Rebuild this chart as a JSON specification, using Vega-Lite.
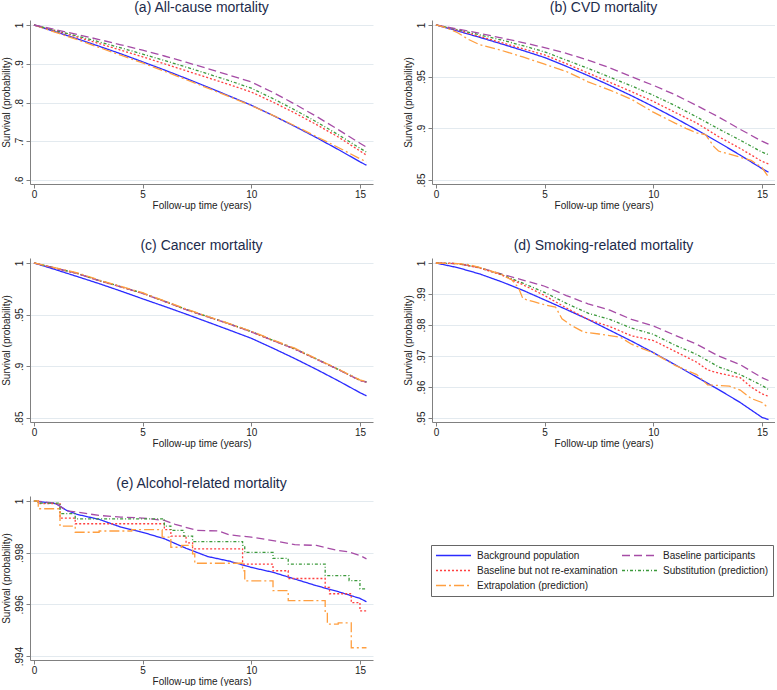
{
"$schema":"https://vega.github.io/schema/vega-lite/v6.json",
"padding":{"left":1,"top":1,"right":0,"bottom":0},
"background":"white",
"datasets":{"d":[
{"p":"a","s":"BG","t":0,"v":1},{"p":"a","s":"BG","t":1,"v":0.9825},{"p":"a","s":"BG","t":2,"v":0.9642},{"p":"a","s":"BG","t":3,"v":0.9452},{"p":"a","s":"BG","t":4,"v":0.9256},{"p":"a","s":"BG","t":5,"v":0.905},{"p":"a","s":"BG","t":6,"v":0.884},{"p":"a","s":"BG","t":7,"v":0.8622},{"p":"a","s":"BG","t":8,"v":0.8397},{"p":"a","s":"BG","t":9,"v":0.8165},{"p":"a","s":"BG","t":10,"v":0.793},{"p":"a","s":"BG","t":11,"v":0.7665},{"p":"a","s":"BG","t":12,"v":0.7385},{"p":"a","s":"BG","t":13,"v":0.7093},{"p":"a","s":"BG","t":14,"v":0.6788},{"p":"a","s":"BG","t":15,"v":0.647},{"p":"a","s":"BG","t":15.3,"v":0.638},
{"p":"a","s":"EX","t":0,"v":1},{"p":"a","s":"EX","t":1,"v":0.981},{"p":"a","s":"EX","t":2,"v":0.962},{"p":"a","s":"EX","t":3,"v":0.942},{"p":"a","s":"EX","t":4,"v":0.922},{"p":"a","s":"EX","t":5,"v":0.902},{"p":"a","s":"EX","t":6,"v":0.881},{"p":"a","s":"EX","t":7,"v":0.859},{"p":"a","s":"EX","t":8,"v":0.837},{"p":"a","s":"EX","t":9,"v":0.815},{"p":"a","s":"EX","t":10,"v":0.792},{"p":"a","s":"EX","t":11,"v":0.767},{"p":"a","s":"EX","t":12,"v":0.74},{"p":"a","s":"EX","t":13,"v":0.712},{"p":"a","s":"EX","t":14,"v":0.684},{"p":"a","s":"EX","t":15,"v":0.655},{"p":"a","s":"EX","t":15.3,"v":0.647},
{"p":"a","s":"BN","t":0,"v":1},{"p":"a","s":"BN","t":1,"v":0.985},{"p":"a","s":"BN","t":2,"v":0.969},{"p":"a","s":"BN","t":3,"v":0.952},{"p":"a","s":"BN","t":4,"v":0.935},{"p":"a","s":"BN","t":5,"v":0.918},{"p":"a","s":"BN","t":6,"v":0.9},{"p":"a","s":"BN","t":7,"v":0.882},{"p":"a","s":"BN","t":8,"v":0.864},{"p":"a","s":"BN","t":9,"v":0.846},{"p":"a","s":"BN","t":10,"v":0.827},{"p":"a","s":"BN","t":11,"v":0.801},{"p":"a","s":"BN","t":12,"v":0.773},{"p":"a","s":"BN","t":13,"v":0.743},{"p":"a","s":"BN","t":14,"v":0.711},{"p":"a","s":"BN","t":15,"v":0.675},{"p":"a","s":"BN","t":15.3,"v":0.664},
{"p":"a","s":"SU","t":0,"v":1},{"p":"a","s":"SU","t":1,"v":0.986},{"p":"a","s":"SU","t":2,"v":0.9715},{"p":"a","s":"SU","t":3,"v":0.9565},{"p":"a","s":"SU","t":4,"v":0.941},{"p":"a","s":"SU","t":5,"v":0.925},{"p":"a","s":"SU","t":6,"v":0.9085},{"p":"a","s":"SU","t":7,"v":0.8915},{"p":"a","s":"SU","t":8,"v":0.874},{"p":"a","s":"SU","t":9,"v":0.856},{"p":"a","s":"SU","t":10,"v":0.837},{"p":"a","s":"SU","t":11,"v":0.81},{"p":"a","s":"SU","t":12,"v":0.781},{"p":"a","s":"SU","t":13,"v":0.75},{"p":"a","s":"SU","t":14,"v":0.717},{"p":"a","s":"SU","t":15,"v":0.682},{"p":"a","s":"SU","t":15.3,"v":0.672},
{"p":"a","s":"BP","t":0,"v":1},{"p":"a","s":"BP","t":1,"v":0.988},{"p":"a","s":"BP","t":2,"v":0.9755},{"p":"a","s":"BP","t":3,"v":0.9625},{"p":"a","s":"BP","t":4,"v":0.949},{"p":"a","s":"BP","t":5,"v":0.935},{"p":"a","s":"BP","t":6,"v":0.92},{"p":"a","s":"BP","t":7,"v":0.904},{"p":"a","s":"BP","t":8,"v":0.8875},{"p":"a","s":"BP","t":9,"v":0.8705},{"p":"a","s":"BP","t":10,"v":0.853},{"p":"a","s":"BP","t":11,"v":0.826},{"p":"a","s":"BP","t":12,"v":0.796},{"p":"a","s":"BP","t":13,"v":0.764},{"p":"a","s":"BP","t":14,"v":0.73},{"p":"a","s":"BP","t":15,"v":0.695},{"p":"a","s":"BP","t":15.3,"v":0.685},

{"p":"b","s":"BG","t":0,"v":1},{"p":"b","s":"BG","t":1,"v":0.9942},{"p":"b","s":"BG","t":2,"v":0.9881},{"p":"b","s":"BG","t":3,"v":0.9818},{"p":"b","s":"BG","t":4,"v":0.9753},{"p":"b","s":"BG","t":5,"v":0.9685},{"p":"b","s":"BG","t":6,"v":0.96},{"p":"b","s":"BG","t":7,"v":0.951},{"p":"b","s":"BG","t":8,"v":0.9415},{"p":"b","s":"BG","t":9,"v":0.9315},{"p":"b","s":"BG","t":10,"v":0.921},{"p":"b","s":"BG","t":11,"v":0.91},{"p":"b","s":"BG","t":12,"v":0.8985},{"p":"b","s":"BG","t":13,"v":0.8865},{"p":"b","s":"BG","t":14,"v":0.874},{"p":"b","s":"BG","t":15,"v":0.861},{"p":"b","s":"BG","t":15.3,"v":0.8575},
{"p":"b","s":"BN","t":0,"v":1},{"p":"b","s":"BN","t":1,"v":0.995},{"p":"b","s":"BN","t":2,"v":0.989},{"p":"b","s":"BN","t":3,"v":0.983},{"p":"b","s":"BN","t":4,"v":0.977},{"p":"b","s":"BN","t":5,"v":0.971},{"p":"b","s":"BN","t":6,"v":0.9625},{"p":"b","s":"BN","t":7,"v":0.9535},{"p":"b","s":"BN","t":8,"v":0.9445},{"p":"b","s":"BN","t":9,"v":0.9355},{"p":"b","s":"BN","t":10,"v":0.926},{"p":"b","s":"BN","t":11,"v":0.9155},{"p":"b","s":"BN","t":12,"v":0.905},{"p":"b","s":"BN","t":13,"v":0.892},{"p":"b","s":"BN","t":14,"v":0.8805},{"p":"b","s":"BN","t":15,"v":0.868},{"p":"b","s":"BN","t":15.3,"v":0.8656},
{"p":"b","s":"SU","t":0,"v":1},{"p":"b","s":"SU","t":1,"v":0.9955},{"p":"b","s":"SU","t":2,"v":0.9905},{"p":"b","s":"SU","t":3,"v":0.9855},{"p":"b","s":"SU","t":4,"v":0.98},{"p":"b","s":"SU","t":5,"v":0.974},{"p":"b","s":"SU","t":6,"v":0.966},{"p":"b","s":"SU","t":7,"v":0.958},{"p":"b","s":"SU","t":8,"v":0.9495},{"p":"b","s":"SU","t":9,"v":0.941},{"p":"b","s":"SU","t":10,"v":0.932},{"p":"b","s":"SU","t":11,"v":0.922},{"p":"b","s":"SU","t":12,"v":0.911},{"p":"b","s":"SU","t":13,"v":0.8995},{"p":"b","s":"SU","t":14,"v":0.8885},{"p":"b","s":"SU","t":15,"v":0.877},{"p":"b","s":"SU","t":15.3,"v":0.8744},
{"p":"b","s":"BP","t":0,"v":1},{"p":"b","s":"BP","t":1,"v":0.996},{"p":"b","s":"BP","t":2,"v":0.992},{"p":"b","s":"BP","t":3,"v":0.9875},{"p":"b","s":"BP","t":4,"v":0.983},{"p":"b","s":"BP","t":5,"v":0.978},{"p":"b","s":"BP","t":6,"v":0.9725},{"p":"b","s":"BP","t":7,"v":0.966},{"p":"b","s":"BP","t":8,"v":0.9585},{"p":"b","s":"BP","t":9,"v":0.95},{"p":"b","s":"BP","t":10,"v":0.9416},{"p":"b","s":"BP","t":11,"v":0.9325},{"p":"b","s":"BP","t":12,"v":0.922},{"p":"b","s":"BP","t":13,"v":0.911},{"p":"b","s":"BP","t":14,"v":0.899},{"p":"b","s":"BP","t":15,"v":0.8875},{"p":"b","s":"BP","t":15.3,"v":0.8847},
{"p":"b","s":"EX","t":0,"v":1},{"p":"b","s":"EX","t":0.5,"v":0.997},{"p":"b","s":"EX","t":1,"v":0.9925},{"p":"b","s":"EX","t":1.5,"v":0.986},{"p":"b","s":"EX","t":2,"v":0.981},{"p":"b","s":"EX","t":3,"v":0.9755},{"p":"b","s":"EX","t":4,"v":0.969},{"p":"b","s":"EX","t":5,"v":0.962},{"p":"b","s":"EX","t":6,"v":0.955},{"p":"b","s":"EX","t":7,"v":0.945},{"p":"b","s":"EX","t":8,"v":0.937},{"p":"b","s":"EX","t":9,"v":0.928},{"p":"b","s":"EX","t":10,"v":0.9156},{"p":"b","s":"EX","t":11,"v":0.905},{"p":"b","s":"EX","t":11.5,"v":0.9},{"p":"b","s":"EX","t":12,"v":0.8955},{"p":"b","s":"EX","t":12.4,"v":0.894},{"p":"b","s":"EX","t":12.8,"v":0.882},{"p":"b","s":"EX","t":13,"v":0.878},{"p":"b","s":"EX","t":14,"v":0.872},{"p":"b","s":"EX","t":14.5,"v":0.869},{"p":"b","s":"EX","t":15,"v":0.862},{"p":"b","s":"EX","t":15.3,"v":0.853},

{"p":"c","s":"BG","t":0,"v":1},{"p":"c","s":"BG","t":1,"v":0.9935},{"p":"c","s":"BG","t":2,"v":0.9868},{"p":"c","s":"BG","t":3,"v":0.98},{"p":"c","s":"BG","t":4,"v":0.9728},{"p":"c","s":"BG","t":5,"v":0.9653},{"p":"c","s":"BG","t":6,"v":0.958},{"p":"c","s":"BG","t":7,"v":0.9505},{"p":"c","s":"BG","t":8,"v":0.9428},{"p":"c","s":"BG","t":9,"v":0.935},{"p":"c","s":"BG","t":10,"v":0.9271},{"p":"c","s":"BG","t":11,"v":0.9175},{"p":"c","s":"BG","t":12,"v":0.9075},{"p":"c","s":"BG","t":13,"v":0.897},{"p":"c","s":"BG","t":14,"v":0.886},{"p":"c","s":"BG","t":15,"v":0.8745},{"p":"c","s":"BG","t":15.3,"v":0.8714},
{"p":"c","s":"BN","t":0,"v":1},{"p":"c","s":"BN","t":1,"v":0.9948},{"p":"c","s":"BN","t":2,"v":0.9897},{"p":"c","s":"BN","t":3,"v":0.9828},{"p":"c","s":"BN","t":4,"v":0.9768},{"p":"c","s":"BN","t":5,"v":0.9705},{"p":"c","s":"BN","t":6,"v":0.9628},{"p":"c","s":"BN","t":7,"v":0.9548},{"p":"c","s":"BN","t":8,"v":0.9478},{"p":"c","s":"BN","t":9,"v":0.9408},{"p":"c","s":"BN","t":10,"v":0.9333},{"p":"c","s":"BN","t":11,"v":0.9248},{"p":"c","s":"BN","t":12,"v":0.9166},{"p":"c","s":"BN","t":13,"v":0.9068},{"p":"c","s":"BN","t":14,"v":0.8968},{"p":"c","s":"BN","t":15,"v":0.8862},{"p":"c","s":"BN","t":15.3,"v":0.8846},
{"p":"c","s":"SU","t":0,"v":1},{"p":"c","s":"SU","t":1,"v":0.9951},{"p":"c","s":"SU","t":2,"v":0.9899},{"p":"c","s":"SU","t":3,"v":0.9831},{"p":"c","s":"SU","t":4,"v":0.9771},{"p":"c","s":"SU","t":5,"v":0.9709},{"p":"c","s":"SU","t":6,"v":0.9631},{"p":"c","s":"SU","t":7,"v":0.9551},{"p":"c","s":"SU","t":8,"v":0.9481},{"p":"c","s":"SU","t":9,"v":0.9411},{"p":"c","s":"SU","t":10,"v":0.9337},{"p":"c","s":"SU","t":11,"v":0.9251},{"p":"c","s":"SU","t":12,"v":0.9171},{"p":"c","s":"SU","t":13,"v":0.9071},{"p":"c","s":"SU","t":14,"v":0.8971},{"p":"c","s":"SU","t":15,"v":0.8866},{"p":"c","s":"SU","t":15.3,"v":0.885},
{"p":"c","s":"BP","t":0,"v":1},{"p":"c","s":"BP","t":1,"v":0.9949},{"p":"c","s":"BP","t":2,"v":0.9898},{"p":"c","s":"BP","t":3,"v":0.9829},{"p":"c","s":"BP","t":4,"v":0.9769},{"p":"c","s":"BP","t":5,"v":0.9706},{"p":"c","s":"BP","t":6,"v":0.9629},{"p":"c","s":"BP","t":7,"v":0.9549},{"p":"c","s":"BP","t":8,"v":0.9479},{"p":"c","s":"BP","t":9,"v":0.9409},{"p":"c","s":"BP","t":10,"v":0.9334},{"p":"c","s":"BP","t":11,"v":0.9249},{"p":"c","s":"BP","t":12,"v":0.9168},{"p":"c","s":"BP","t":13,"v":0.9069},{"p":"c","s":"BP","t":14,"v":0.8969},{"p":"c","s":"BP","t":15,"v":0.8863},{"p":"c","s":"BP","t":15.3,"v":0.8848},
{"p":"c","s":"EX","t":0,"v":1},{"p":"c","s":"EX","t":1,"v":0.9953},{"p":"c","s":"EX","t":2,"v":0.9905},{"p":"c","s":"EX","t":3,"v":0.9835},{"p":"c","s":"EX","t":4,"v":0.9773},{"p":"c","s":"EX","t":5,"v":0.9712},{"p":"c","s":"EX","t":6,"v":0.9633},{"p":"c","s":"EX","t":7,"v":0.9555},{"p":"c","s":"EX","t":8,"v":0.9482},{"p":"c","s":"EX","t":9,"v":0.9412},{"p":"c","s":"EX","t":10,"v":0.934},{"p":"c","s":"EX","t":11,"v":0.9255},{"p":"c","s":"EX","t":12,"v":0.9175},{"p":"c","s":"EX","t":13,"v":0.9073},{"p":"c","s":"EX","t":14,"v":0.8974},{"p":"c","s":"EX","t":15,"v":0.8868},{"p":"c","s":"EX","t":15.3,"v":0.8853},

{"p":"d","s":"BG","t":0,"v":1},{"p":"d","s":"BG","t":1,"v":0.9985},{"p":"d","s":"BG","t":2,"v":0.9965},{"p":"d","s":"BG","t":3,"v":0.994},{"p":"d","s":"BG","t":4,"v":0.9912},{"p":"d","s":"BG","t":5,"v":0.9881},{"p":"d","s":"BG","t":6,"v":0.985},{"p":"d","s":"BG","t":7,"v":0.9818},{"p":"d","s":"BG","t":8,"v":0.9783},{"p":"d","s":"BG","t":9,"v":0.9748},{"p":"d","s":"BG","t":10,"v":0.9711},{"p":"d","s":"BG","t":11,"v":0.9672},{"p":"d","s":"BG","t":12,"v":0.9632},{"p":"d","s":"BG","t":13,"v":0.9592},{"p":"d","s":"BG","t":14,"v":0.955},{"p":"d","s":"BG","t":15,"v":0.9502},{"p":"d","s":"BG","t":15.3,"v":0.9495},
{"p":"d","s":"BP","t":0,"v":1},{"p":"d","s":"BP","t":1,"v":0.9998},{"p":"d","s":"BP","t":2,"v":0.9985},{"p":"d","s":"BP","t":3,"v":0.9965},{"p":"d","s":"BP","t":4,"v":0.9945},{"p":"d","s":"BP","t":5,"v":0.9925},{"p":"d","s":"BP","t":6,"v":0.9895},{"p":"d","s":"BP","t":7,"v":0.9868},{"p":"d","s":"BP","t":8,"v":0.9848},{"p":"d","s":"BP","t":9,"v":0.9818},{"p":"d","s":"BP","t":10,"v":0.9797},{"p":"d","s":"BP","t":11,"v":0.9767},{"p":"d","s":"BP","t":12,"v":0.9738},{"p":"d","s":"BP","t":13,"v":0.97},{"p":"d","s":"BP","t":14,"v":0.9672},{"p":"d","s":"BP","t":15,"v":0.963},{"p":"d","s":"BP","t":15.3,"v":0.9621},
{"p":"d","s":"SU","t":0,"v":1},{"p":"d","s":"SU","t":1,"v":0.9998},{"p":"d","s":"SU","t":2,"v":0.9985},{"p":"d","s":"SU","t":3,"v":0.9963},{"p":"d","s":"SU","t":4,"v":0.9935},{"p":"d","s":"SU","t":5,"v":0.9905},{"p":"d","s":"SU","t":6,"v":0.987},{"p":"d","s":"SU","t":7,"v":0.9838},{"p":"d","s":"SU","t":8,"v":0.9818},{"p":"d","s":"SU","t":9,"v":0.979},{"p":"d","s":"SU","t":10,"v":0.977},{"p":"d","s":"SU","t":11,"v":0.9735},{"p":"d","s":"SU","t":12,"v":0.9705},{"p":"d","s":"SU","t":13,"v":0.9665},{"p":"d","s":"SU","t":14,"v":0.964},{"p":"d","s":"SU","t":15,"v":0.9605},{"p":"d","s":"SU","t":15.3,"v":0.9592},
{"p":"d","s":"BN","t":0,"v":1},{"p":"d","s":"BN","t":1,"v":0.9998},{"p":"d","s":"BN","t":2,"v":0.9984},{"p":"d","s":"BN","t":3,"v":0.9962},{"p":"d","s":"BN","t":4,"v":0.993},{"p":"d","s":"BN","t":5,"v":0.9895},{"p":"d","s":"BN","t":6,"v":0.9855},{"p":"d","s":"BN","t":7,"v":0.9818},{"p":"d","s":"BN","t":8,"v":0.9795},{"p":"d","s":"BN","t":9,"v":0.9765},{"p":"d","s":"BN","t":10,"v":0.975},{"p":"d","s":"BN","t":11,"v":0.9715},{"p":"d","s":"BN","t":12,"v":0.968},{"p":"d","s":"BN","t":12.5,"v":0.9655},{"p":"d","s":"BN","t":13,"v":0.9645},{"p":"d","s":"BN","t":14,"v":0.963},{"p":"d","s":"BN","t":14.5,"v":0.96},{"p":"d","s":"BN","t":15,"v":0.9578},{"p":"d","s":"BN","t":15.3,"v":0.957},
{"p":"d","s":"EX","t":0,"v":1},{"p":"d","s":"EX","t":1,"v":0.9998},{"p":"d","s":"EX","t":1.5,"v":0.9995},{"p":"d","s":"EX","t":2,"v":0.9986},{"p":"d","s":"EX","t":3,"v":0.9964},{"p":"d","s":"EX","t":3.5,"v":0.9945},{"p":"d","s":"EX","t":3.8,"v":0.992},{"p":"d","s":"EX","t":4,"v":0.9885},{"p":"d","s":"EX","t":4.5,"v":0.9875},{"p":"d","s":"EX","t":5,"v":0.9865},{"p":"d","s":"EX","t":5.5,"v":0.9858},{"p":"d","s":"EX","t":5.8,"v":0.982},{"p":"d","s":"EX","t":6.2,"v":0.98},{"p":"d","s":"EX","t":6.8,"v":0.9777},{"p":"d","s":"EX","t":7.5,"v":0.9771},{"p":"d","s":"EX","t":8.5,"v":0.976},{"p":"d","s":"EX","t":9,"v":0.9738},{"p":"d","s":"EX","t":10,"v":0.971},{"p":"d","s":"EX","t":10.5,"v":0.969},{"p":"d","s":"EX","t":11,"v":0.967},{"p":"d","s":"EX","t":12,"v":0.964},{"p":"d","s":"EX","t":12.5,"v":0.9607},{"p":"d","s":"EX","t":13.5,"v":0.9603},{"p":"d","s":"EX","t":14,"v":0.959},{"p":"d","s":"EX","t":14.5,"v":0.9563},{"p":"d","s":"EX","t":15,"v":0.955},{"p":"d","s":"EX","t":15.3,"v":0.9532},

{"p":"e","s":"BG","t":0,"v":1},{"p":"e","s":"BG","t":1,"v":0.9999},{"p":"e","s":"BG","t":1.5,"v":0.99964},{"p":"e","s":"BG","t":2,"v":0.99948},{"p":"e","s":"BG","t":3,"v":0.99929},{"p":"e","s":"BG","t":4,"v":0.99899},{"p":"e","s":"BG","t":5,"v":0.99879},{"p":"e","s":"BG","t":6,"v":0.99854},{"p":"e","s":"BG","t":7,"v":0.99817},{"p":"e","s":"BG","t":8,"v":0.99785},{"p":"e","s":"BG","t":9,"v":0.99767},{"p":"e","s":"BG","t":10,"v":0.99743},{"p":"e","s":"BG","t":11,"v":0.99724},{"p":"e","s":"BG","t":12,"v":0.99698},{"p":"e","s":"BG","t":13,"v":0.99672},{"p":"e","s":"BG","t":14,"v":0.99649},{"p":"e","s":"BG","t":15,"v":0.99623},{"p":"e","s":"BG","t":15.3,"v":0.9961},
{"p":"e","s":"BP","t":0,"v":1},{"p":"e","s":"BP","t":1,"v":0.99992},{"p":"e","s":"BP","t":1.5,"v":0.99962},{"p":"e","s":"BP","t":2,"v":0.99957},{"p":"e","s":"BP","t":3,"v":0.99944},{"p":"e","s":"BP","t":4,"v":0.99938},{"p":"e","s":"BP","t":5,"v":0.99934},{"p":"e","s":"BP","t":6,"v":0.99925},{"p":"e","s":"BP","t":6.5,"v":0.9991},{"p":"e","s":"BP","t":7.5,"v":0.99886},{"p":"e","s":"BP","t":8.5,"v":0.99884},{"p":"e","s":"BP","t":9,"v":0.99869},{"p":"e","s":"BP","t":10,"v":0.9986},{"p":"e","s":"BP","t":11,"v":0.99847},{"p":"e","s":"BP","t":12,"v":0.99831},{"p":"e","s":"BP","t":13,"v":0.99828},{"p":"e","s":"BP","t":14,"v":0.99808},{"p":"e","s":"BP","t":14.5,"v":0.99803},{"p":"e","s":"BP","t":15,"v":0.99789},{"p":"e","s":"BP","t":15.3,"v":0.99776},
{"p":"e","s":"BN","t":0,"v":1},{"p":"e","s":"BN","t":0.2,"v":0.9999},{"p":"e","s":"BN","t":1.2,"v":0.99934},{"p":"e","s":"BN","t":1.9,"v":0.99912},{"p":"e","s":"BN","t":6,"v":0.99889},{"p":"e","s":"BN","t":6.3,"v":0.99864},{"p":"e","s":"BN","t":7,"v":0.99838},{"p":"e","s":"BN","t":7.3,"v":0.99815},{"p":"e","s":"BN","t":9.6,"v":0.99756},{"p":"e","s":"BN","t":11,"v":0.9973},{"p":"e","s":"BN","t":11.7,"v":0.997},{"p":"e","s":"BN","t":13.4,"v":0.99666},{"p":"e","s":"BN","t":13.6,"v":0.99641},{"p":"e","s":"BN","t":14.6,"v":0.99607},{"p":"e","s":"BN","t":15,"v":0.99575},{"p":"e","s":"BN","t":15.3,"v":0.99575},
{"p":"e","s":"SU","t":0,"v":1},{"p":"e","s":"SU","t":0.2,"v":0.99992},{"p":"e","s":"SU","t":1.2,"v":0.99951},{"p":"e","s":"SU","t":1.9,"v":0.99931},{"p":"e","s":"SU","t":6,"v":0.99903},{"p":"e","s":"SU","t":6.3,"v":0.99886},{"p":"e","s":"SU","t":6.9,"v":0.99864},{"p":"e","s":"SU","t":7.3,"v":0.99843},{"p":"e","s":"SU","t":9.6,"v":0.99828},{"p":"e","s":"SU","t":9.7,"v":0.99801},{"p":"e","s":"SU","t":11,"v":0.99778},{"p":"e","s":"SU","t":11.7,"v":0.99756},{"p":"e","s":"SU","t":13.4,"v":0.99711},{"p":"e","s":"SU","t":14.5,"v":0.99692},{"p":"e","s":"SU","t":15,"v":0.9966},{"p":"e","s":"SU","t":15.3,"v":0.9966},
{"p":"e","s":"EX","t":0,"v":1},{"p":"e","s":"EX","t":0.2,"v":0.9997},{"p":"e","s":"EX","t":1.2,"v":0.99903},{"p":"e","s":"EX","t":1.9,"v":0.99879},{"p":"e","s":"EX","t":3,"v":0.99884},{"p":"e","s":"EX","t":4.5,"v":0.99889},{"p":"e","s":"EX","t":5.9,"v":0.9986},{"p":"e","s":"EX","t":6.3,"v":0.99821},{"p":"e","s":"EX","t":6.8,"v":0.99828},{"p":"e","s":"EX","t":7.3,"v":0.99795},{"p":"e","s":"EX","t":7.4,"v":0.99759},{"p":"e","s":"EX","t":9.6,"v":0.9973},{"p":"e","s":"EX","t":9.7,"v":0.99691},{"p":"e","s":"EX","t":11,"v":0.99653},{"p":"e","s":"EX","t":11.7,"v":0.99614},{"p":"e","s":"EX","t":13.4,"v":0.99568},{"p":"e","s":"EX","t":13.5,"v":0.99523},{"p":"e","s":"EX","t":14,"v":0.99528},{"p":"e","s":"EX","t":14.6,"v":0.99432},{"p":"e","s":"EX","t":15.3,"v":0.99432}
]},
"data":{"name":"d"},
"resolve":{"scale":{"x":"independent","y":"independent"}},
"spacing":29,
"vconcat":[
 {"hconcat":[
  {"width":343,"height":164,"title":"(a) All-cause mortality","transform":[{"filter":"datum.p=='a'"}],
   "mark":{"type":"line","strokeWidth":1.3,"clip":true},
   "encoding":{
    "x":{"field":"t","type":"quantitative","scale":{"domain":[-0.18,15.6],"nice":false,"zero":false},"axis":{"values":[0,5,10,15],"title":"Follow-up time (years)"}},
    "y":{"field":"v","type":"quantitative","scale":{"domain":[0.5897,1.0129],"nice":false,"zero":false},"axis":{"values":[0.6,0.7,0.8,0.9,1],"title":"Survival (probability)","labelExpr":"datum.value >= 1 ? '1' : substring(format(datum.value, '~g'), 1)"}},
    "color":{"field":"s","type":"nominal","scale":{"domain":["BG","BP","BN","SU","EX"],"range":["#2b2bff","#a64ca6","#ff4040","#3c9a3c","#ff9f40"]},"legend":{"title":null,"orient":"none","legendX":401,"legendY":525,"columns":2,"direction":"horizontal","labelExpr":"datum.value == 'BG' ? 'Background population' : datum.value == 'BP' ? 'Baseline participants' : datum.value == 'BN' ? 'Baseline but not re-examination' : datum.value == 'SU' ? 'Substitution (prediction)' : 'Extrapolation (prediction)'"}},
    "strokeDash":{"field":"s","type":"nominal","scale":{"domain":["BG","BP","BN","SU","EX"],"range":[[1,0],[8,4],[2,2],[3,2,1,2],[10,3,2,3]]},"legend":{"title":null,"orient":"none","legendX":401,"legendY":525,"columns":2,"direction":"horizontal","labelExpr":"datum.value == 'BG' ? 'Background population' : datum.value == 'BP' ? 'Baseline participants' : datum.value == 'BN' ? 'Baseline but not re-examination' : datum.value == 'SU' ? 'Substitution (prediction)' : 'Extrapolation (prediction)'"}}
   }},
  {"width":343,"height":164,"title":"(b) CVD mortality","transform":[{"filter":"datum.p=='b'"}],
   "mark":{"type":"line","strokeWidth":1.3,"clip":true},
   "encoding":{
    "x":{"field":"t","type":"quantitative","scale":{"domain":[-0.18,15.6],"nice":false,"zero":false},"axis":{"values":[0,5,10,15],"title":"Follow-up time (years)"}},
    "y":{"field":"v","type":"quantitative","scale":{"domain":[0.8461,1.0048],"nice":false,"zero":false},"axis":{"values":[0.85,0.9,0.95,1],"title":"Survival (probability)","labelExpr":"datum.value >= 1 ? '1' : substring(format(datum.value, '~g'), 1)"}},
    "color":{"field":"s","type":"nominal","scale":{"domain":["BG","BP","BN","SU","EX"],"range":["#2b2bff","#a64ca6","#ff4040","#3c9a3c","#ff9f40"]},"legend":{"title":null,"orient":"none","legendX":401,"legendY":525,"columns":2,"direction":"horizontal","labelExpr":"datum.value == 'BG' ? 'Background population' : datum.value == 'BP' ? 'Baseline participants' : datum.value == 'BN' ? 'Baseline but not re-examination' : datum.value == 'SU' ? 'Substitution (prediction)' : 'Extrapolation (prediction)'"}},
    "strokeDash":{"field":"s","type":"nominal","scale":{"domain":["BG","BP","BN","SU","EX"],"range":[[1,0],[8,4],[2,2],[3,2,1,2],[10,3,2,3]]},"legend":{"title":null,"orient":"none","legendX":401,"legendY":525,"columns":2,"direction":"horizontal","labelExpr":"datum.value == 'BG' ? 'Background population' : datum.value == 'BP' ? 'Baseline participants' : datum.value == 'BN' ? 'Baseline but not re-examination' : datum.value == 'SU' ? 'Substitution (prediction)' : 'Extrapolation (prediction)'"}}
   }}
 ],"spacing":30,"resolve":{"scale":{"x":"independent","y":"independent"}}},
 {"hconcat":[
  {"width":343,"height":164,"title":"(c) Cancer mortality","transform":[{"filter":"datum.p=='c'"}],
   "mark":{"type":"line","strokeWidth":1.3,"clip":true},
   "encoding":{
    "x":{"field":"t","type":"quantitative","scale":{"domain":[-0.18,15.6],"nice":false,"zero":false},"axis":{"values":[0,5,10,15],"title":"Follow-up time (years)"}},
    "y":{"field":"v","type":"quantitative","scale":{"domain":[0.8461,1.0048],"nice":false,"zero":false},"axis":{"values":[0.85,0.9,0.95,1],"title":"Survival (probability)","labelExpr":"datum.value >= 1 ? '1' : substring(format(datum.value, '~g'), 1)"}},
    "color":{"field":"s","type":"nominal","scale":{"domain":["BG","BP","BN","SU","EX"],"range":["#2b2bff","#a64ca6","#ff4040","#3c9a3c","#ff9f40"]},"legend":{"title":null,"orient":"none","legendX":401,"legendY":525,"columns":2,"direction":"horizontal","labelExpr":"datum.value == 'BG' ? 'Background population' : datum.value == 'BP' ? 'Baseline participants' : datum.value == 'BN' ? 'Baseline but not re-examination' : datum.value == 'SU' ? 'Substitution (prediction)' : 'Extrapolation (prediction)'"}},
    "strokeDash":{"field":"s","type":"nominal","scale":{"domain":["BG","BP","BN","SU","EX"],"range":[[1,0],[8,4],[2,2],[3,2,1,2],[10,3,2,3]]},"legend":{"title":null,"orient":"none","legendX":401,"legendY":525,"columns":2,"direction":"horizontal","labelExpr":"datum.value == 'BG' ? 'Background population' : datum.value == 'BP' ? 'Baseline participants' : datum.value == 'BN' ? 'Baseline but not re-examination' : datum.value == 'SU' ? 'Substitution (prediction)' : 'Extrapolation (prediction)'"}}
   }},
  {"width":343,"height":164,"title":"(d) Smoking-related mortality","transform":[{"filter":"datum.p=='d'"}],
   "mark":{"type":"line","strokeWidth":1.3,"clip":true},
   "encoding":{
    "x":{"field":"t","type":"quantitative","scale":{"domain":[-0.18,15.6],"nice":false,"zero":false},"axis":{"values":[0,5,10,15],"title":"Follow-up time (years)"}},
    "y":{"field":"v","type":"quantitative","scale":{"domain":[0.94871,1.00161],"nice":false,"zero":false},"axis":{"values":[0.95,0.96,0.97,0.98,0.99,1],"title":"Survival (probability)","labelExpr":"datum.value >= 1 ? '1' : substring(format(datum.value, '~g'), 1)"}},
    "color":{"field":"s","type":"nominal","scale":{"domain":["BG","BP","BN","SU","EX"],"range":["#2b2bff","#a64ca6","#ff4040","#3c9a3c","#ff9f40"]},"legend":{"title":null,"orient":"none","legendX":401,"legendY":525,"columns":2,"direction":"horizontal","labelExpr":"datum.value == 'BG' ? 'Background population' : datum.value == 'BP' ? 'Baseline participants' : datum.value == 'BN' ? 'Baseline but not re-examination' : datum.value == 'SU' ? 'Substitution (prediction)' : 'Extrapolation (prediction)'"}},
    "strokeDash":{"field":"s","type":"nominal","scale":{"domain":["BG","BP","BN","SU","EX"],"range":[[1,0],[8,4],[2,2],[3,2,1,2],[10,3,2,3]]},"legend":{"title":null,"orient":"none","legendX":401,"legendY":525,"columns":2,"direction":"horizontal","labelExpr":"datum.value == 'BG' ? 'Background population' : datum.value == 'BP' ? 'Baseline participants' : datum.value == 'BN' ? 'Baseline but not re-examination' : datum.value == 'SU' ? 'Substitution (prediction)' : 'Extrapolation (prediction)'"}}
   }}
 ],"spacing":30,"resolve":{"scale":{"x":"independent","y":"independent"}}},
 {"width":343,"height":164,"title":"(e) Alcohol-related mortality","transform":[{"filter":"datum.p=='e'"}],
  "encoding":{
    "x":{"field":"t","type":"quantitative","scale":{"domain":[-0.18,15.6],"nice":false,"zero":false},"axis":{"values":[0,5,10,15],"title":"Follow-up time (years)"}},
    "y":{"field":"v","type":"quantitative","scale":{"domain":[0.993845,1.000194],"nice":false,"zero":false},"axis":{"values":[0.994,0.996,0.998,1],"title":"Survival (probability)","labelExpr":"datum.value >= 1 ? '1' : substring(format(datum.value, '~g'), 1)"}},
    "color":{"field":"s","type":"nominal","scale":{"domain":["BG","BP","BN","SU","EX"],"range":["#2b2bff","#a64ca6","#ff4040","#3c9a3c","#ff9f40"]},"legend":{"title":null,"orient":"none","legendX":401,"legendY":525,"columns":2,"direction":"horizontal","labelExpr":"datum.value == 'BG' ? 'Background population' : datum.value == 'BP' ? 'Baseline participants' : datum.value == 'BN' ? 'Baseline but not re-examination' : datum.value == 'SU' ? 'Substitution (prediction)' : 'Extrapolation (prediction)'"}},
    "strokeDash":{"field":"s","type":"nominal","scale":{"domain":["BG","BP","BN","SU","EX"],"range":[[1,0],[8,4],[2,2],[3,2,1,2],[10,3,2,3]]},"legend":{"title":null,"orient":"none","legendX":401,"legendY":525,"columns":2,"direction":"horizontal","labelExpr":"datum.value == 'BG' ? 'Background population' : datum.value == 'BP' ? 'Baseline participants' : datum.value == 'BN' ? 'Baseline but not re-examination' : datum.value == 'SU' ? 'Substitution (prediction)' : 'Extrapolation (prediction)'"}}
  },
  "layer":[
   {"transform":[{"filter":"datum.s=='BG' || datum.s=='BP'"}],"mark":{"type":"line","strokeWidth":1.3,"clip":true}},
   {"transform":[{"filter":"datum.s!='BG' && datum.s!='BP'"}],"mark":{"type":"line","strokeWidth":1.3,"clip":true,"interpolate":"step-after"}}
  ]}
],
"config":{
 "font":"Liberation Sans",
 "view":{"stroke":null},
 "axis":{"domainColor":"#808080","tickColor":"#808080","labelColor":"#222","titleColor":"#222","labelFontSize":10,"titleFontSize":10,"titleFontWeight":"normal","gridColor":"#e3eaef","tickSize":4,"labelFont":"Liberation Sans","titleFont":"Liberation Sans"},
 "axisX":{"grid":false,"labelPadding":1,"titlePadding":1},
 "axisY":{"grid":true,"labelAngle":270,"labelAlign":"center","labelBaseline":"bottom","labelPadding":2,"titlePadding":3},
 "title":{"fontSize":14,"fontWeight":"normal","color":"#1c2b4b","offset":5,"anchor":"middle","font":"Liberation Sans"},
 "legend":{"symbolType":"stroke","symbolSize":1225,"symbolStrokeWidth":1.3,"clipHeight":13,"labelFontSize":10,"labelColor":"#222","labelLimit":300,"labelOffset":5,"columnPadding":3,"rowPadding":2,"padding":4,"strokeColor":"#666","fillColor":"white","labelFont":"Liberation Sans"}
}
}
